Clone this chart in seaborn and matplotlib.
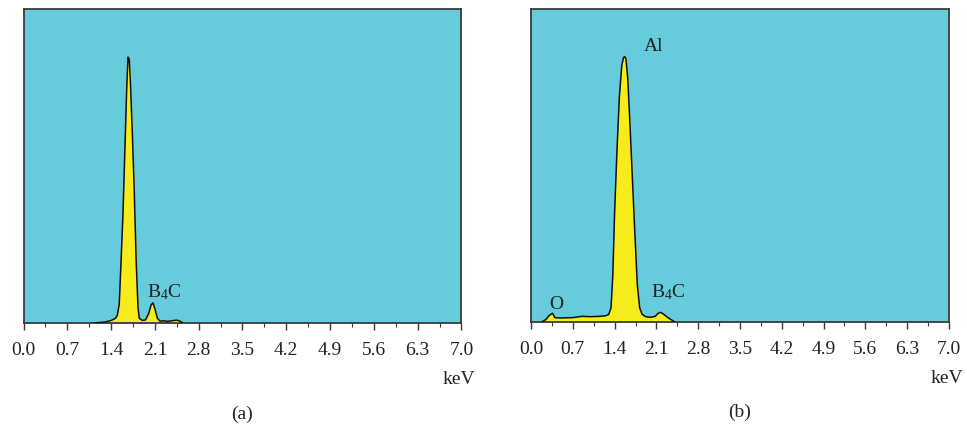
import numpy as np
import pandas as pd
import matplotlib
matplotlib.use("Agg")
import matplotlib.pyplot as plt
import seaborn as sns

# EDS spectra: energy (keV) and relative intensity (% of full scale)
energy_a = [1.12, 1.30, 1.40, 1.47, 1.50, 1.53, 1.56, 1.59, 1.62, 1.65, 1.67,
            1.69, 1.71, 1.74, 1.77, 1.80, 1.83, 1.85, 1.90, 1.95, 2.00, 2.04,
            2.07, 2.10, 2.14, 2.18, 2.25, 2.30, 2.40, 2.45, 2.50, 2.55]
counts_a = [0.0, 0.3, 0.8, 1.5, 2.5, 6.0, 20.0, 35.0, 55.0, 75.0, 84.7,
            84.0, 76.0, 60.0, 42.0, 20.0, 5.0, 1.5, 0.8, 1.0, 3.0, 5.8,
            6.4, 4.5, 1.5, 0.6, 0.7, 0.5, 0.8, 0.9, 0.6, 0.0]

energy_b = [0.18, 0.25, 0.30, 0.36, 0.40, 0.50, 0.70, 0.85, 1.00, 1.15, 1.25,
            1.30, 1.34, 1.37, 1.40, 1.44, 1.48, 1.52, 1.55, 1.57, 1.59, 1.62,
            1.66, 1.70, 1.74, 1.78, 1.82, 1.86, 1.92, 2.00, 2.08, 2.13, 2.17,
            2.22, 2.30, 2.41]
counts_b = [0.0, 0.8, 2.0, 2.8, 1.4, 1.3, 1.4, 1.8, 1.7, 1.8, 2.0,
            2.4, 4.5, 15.0, 35.0, 55.0, 72.0, 82.0, 84.5, 84.8, 84.0, 78.0,
            62.0, 45.0, 28.0, 12.0, 4.5, 2.5, 1.7, 1.5, 1.8, 2.8, 3.1,
            2.5, 1.3, 0.0]

tick_values = [0.0, 0.7, 1.4, 2.1, 2.8, 3.5, 4.2, 4.9, 5.6, 6.3, 7.0]
tick_labels = ["0.0", "0.7", "1.4", "2.1", "2.8", "3.5", "4.2", "4.9", "5.6", "6.3", "7.0"]

panel_titles = ["(a)", "(b)"]
# peak labels: (text, energy, intensity at text baseline)
labels_a = [("B$_4$C", 1.97, 8.3)]
labels_b = [("O", 0.30, 4.2), ("Al", 1.89, 86.6), ("B$_4$C", 2.01, 8.0)]

sns.set_theme(style="ticks")
plt.rcParams["font.family"] = ["Liberation Serif", "DejaVu Serif"]
plt.rcParams["mathtext.fontset"] = "custom"
plt.rcParams["mathtext.rm"] = "Liberation Serif"
plt.rcParams["mathtext.it"] = "Liberation Serif:italic"

BG = "#66CBDA"
FILL = "#F6EC1C"
FRAME = "#3a3a3a"
TXT = "#222222"
FS = 14

fig = plt.figure(figsize=(9.67, 4.32), dpi=100)
W, H = 967, 432
rects = [(23.5, 9, 461.5, 323), (531, 9, 949, 322)]
axes = []
for (l, t, r, b) in rects:
    ax = fig.add_axes([l / W, 1 - b / H, (r - l) / W, (b - t) / H])
    axes.append(ax)

datasets = [(energy_a, counts_a, labels_a), (energy_b, counts_b, labels_b)]
for ax, (e, c, labs), title in zip(axes, datasets, panel_titles):
    df = pd.DataFrame({"keV": e, "counts": c})
    ax.set_facecolor(BG)
    ax.fill_between(df["keV"], 0, df["counts"], color=FILL, zorder=2, linewidth=0)
    sns.lineplot(data=df, x="keV", y="counts", ax=ax, color="#111111",
                 linewidth=1.1, zorder=3, sort=False)
    ax.set_xlim(0, 7.0)
    ax.set_ylim(0, 100)
    ax.set_xticks(tick_values)
    ax.set_xticklabels(tick_labels, fontsize=FS, color=TXT)
    ax.set_xticks(np.arange(0.35, 7.0, 0.7), minor=True)
    ax.tick_params(axis="x", which="major", direction="out", length=5,
                   width=1.0, color=FRAME, pad=9)
    ax.tick_params(axis="x", which="minor", direction="out", length=3,
                   width=0.8, color=FRAME)
    ax.set_yticks([])
    ax.set_xlabel("")
    ax.set_ylabel("")
    for side in ["left", "right", "top", "bottom"]:
        ax.spines[side].set_visible(True)
        ax.spines[side].set_color(FRAME)
        ax.spines[side].set_linewidth(1.3)
    ax.text(1.0 + 14 / (ax.bbox.width), -0.18, "keV", transform=ax.transAxes,
            ha="right", va="center", fontsize=FS, color=TXT)
    ax.text(0.5, -0.29, title, transform=ax.transAxes, ha="center", va="center",
            fontsize=FS, color=TXT)
    for txt, x, y in labs:
        ax.text(x, y, txt, ha="left", va="baseline", fontsize=FS,
                color=TXT, zorder=4)

fig.savefig("out.png", dpi=100)
